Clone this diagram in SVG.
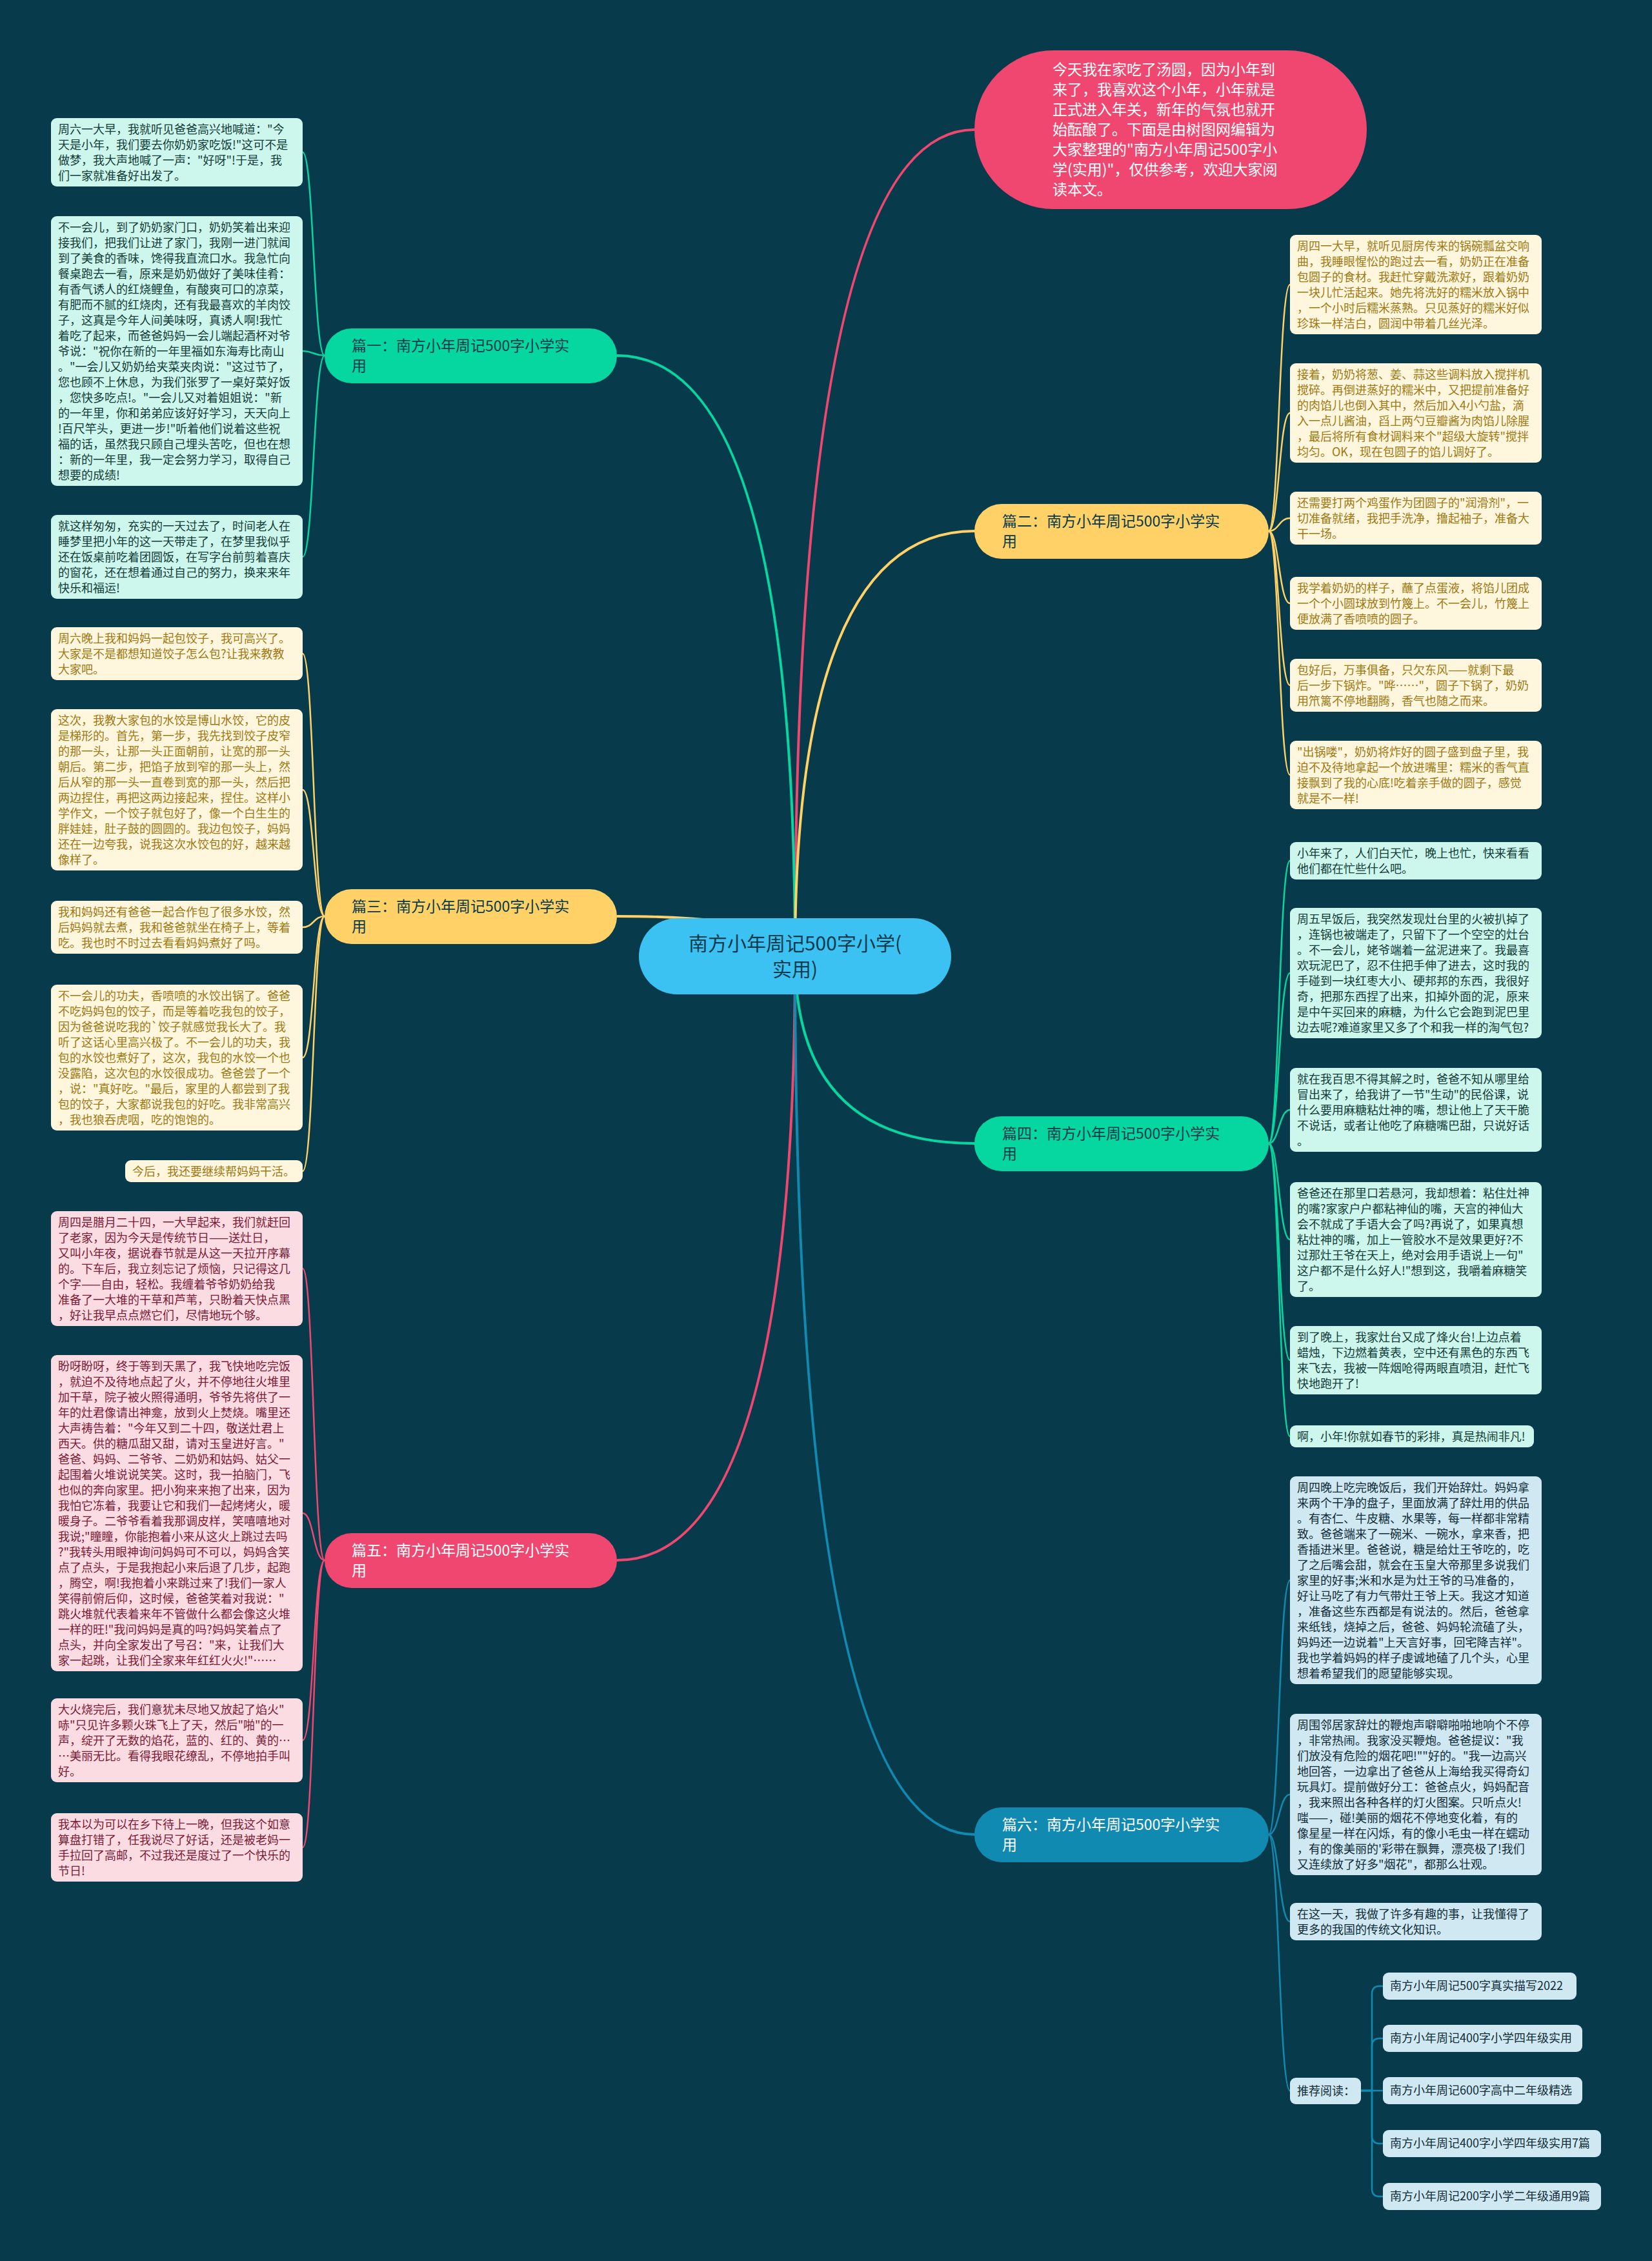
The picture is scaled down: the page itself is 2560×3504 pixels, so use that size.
<svg xmlns="http://www.w3.org/2000/svg" width="2560" height="3504" viewBox="0 0 2560 3504">
<style>
text{font-family:"Noto Sans CJK SC","Noto Sans",sans-serif}
.tx{font-size:18px}
.bx{stroke:none}
.cg{fill:#CDF6EC}.tg{fill:#123C38}
.cy{fill:#FFF6DE}.ty{fill:#A07812}
.cp{fill:#FCDCE3}.tp{fill:#7C1A35}
.cb{fill:#D0E8F1}.tb{fill:#0F2C38}
.main{fill:none;stroke-width:4}
.sub{fill:none;stroke-width:2.5}
.sg{stroke:#06D6A0}.sy{stroke:#FFD166}.sp{stroke:#EF476F}.sb{stroke:#118AB2}
.br{font-size:23px}
</style>
<rect width="2560" height="3504" fill="#073B4C"/>
<g id="connectors">
<path class="main sp" d="M1232 1482 Q1232 201 1510 201"/>
<path class="main sg" d="M1232 1482 Q1232 551 956 551"/>
<path class="main sy" d="M1232 1482 Q1232 823 1510 823"/>
<path class="main sy" d="M1232 1482 Q1232 1420 956 1420"/>
<path class="main sg" d="M1232 1482 Q1232 1772 1510 1772"/>
<path class="main sp" d="M1232 1482 Q1232 2418 956 2418"/>
<path class="main sb" d="M1232 1482 Q1232 2843 1510 2843"/>
<path class="sub sg" d="M503 551 C486 551 486 236 469 236"/>
<path class="sub sg" d="M503 551 C486 551 486 544 469 544"/>
<path class="sub sg" d="M503 551 C486 551 486 863 469 863"/>
<path class="sub sy" d="M503 1420 C486 1420 486 1013 469 1013"/>
<path class="sub sy" d="M503 1420 C486 1420 486 1224 469 1224"/>
<path class="sub sy" d="M503 1420 C486 1420 486 1437 469 1437"/>
<path class="sub sy" d="M503 1420 C486 1420 486 1639 469 1639"/>
<path class="sub sy" d="M503 1420 C486 1420 486 1815 469 1815"/>
<path class="sub sp" d="M503 2418 C486 2418 486 1966 469 1966"/>
<path class="sub sp" d="M503 2418 C486 2418 486 2345 469 2345"/>
<path class="sub sp" d="M503 2418 C486 2418 486 2697 469 2697"/>
<path class="sub sp" d="M503 2418 C486 2418 486 2863 469 2863"/>
<path class="sub sy" d="M1966 823 C1982 823 1982 441 1999 441"/>
<path class="sub sy" d="M1966 823 C1982 823 1982 640 1999 640"/>
<path class="sub sy" d="M1966 823 C1982 823 1982 803 1999 803"/>
<path class="sub sy" d="M1966 823 C1982 823 1982 935 1999 935"/>
<path class="sub sy" d="M1966 823 C1982 823 1982 1062 1999 1062"/>
<path class="sub sy" d="M1966 823 C1982 823 1982 1201 1999 1201"/>
<path class="sub sg" d="M1966 1772 C1982 1772 1982 1334 1999 1334"/>
<path class="sub sg" d="M1966 1772 C1982 1772 1982 1508 1999 1508"/>
<path class="sub sg" d="M1966 1772 C1982 1772 1982 1720 1999 1720"/>
<path class="sub sg" d="M1966 1772 C1982 1772 1982 1921 1999 1921"/>
<path class="sub sg" d="M1966 1772 C1982 1772 1982 2108 1999 2108"/>
<path class="sub sg" d="M1966 1772 C1982 1772 1982 2226 1999 2226"/>
<path class="sub sb" d="M1966 2843 C1982 2843 1982 2449 1999 2449"/>
<path class="sub sb" d="M1966 2843 C1982 2843 1982 2781 1999 2781"/>
<path class="sub sb" d="M1966 2843 C1982 2843 1982 2978 1999 2978"/>
<path class="sub sb" d="M1966 2843 C1982 2843 1982 3240 1999 3240"/>
<path class="sub sb" d="M2109 3240 H2126 V3090 Q2126 3078 2138 3078 H2143"/>
<path class="sub sb" d="M2109 3240 H2126 V3171 Q2126 3159 2138 3159 H2143"/>
<path class="sub sb" d="M2109 3240 H2143"/>
<path class="sub sb" d="M2109 3240 H2126 V3310 Q2126 3322 2138 3322 H2143"/>
<path class="sub sb" d="M2109 3240 H2126 V3392 Q2126 3404 2138 3404 H2143"/>
</g>
<g id="root"><rect x="990" y="1423" width="484" height="118" rx="59" fill="#3CC2F2"/><text x="1232" y="1473" font-size="30" text-anchor="middle" fill="#073B4C"><tspan x="1232">南方小年周记500字小学(</tspan><tspan x="1232" dy="40">实用)</tspan></text></g>
<g id="intro"><rect x="1510" y="78" width="608" height="246" rx="123" fill="#EF476F"/><text x="1631" y="116" font-size="23" fill="#FFFFFF"><tspan x="1631">今天我在家吃了汤圆，因为小年到</tspan><tspan x="1631" dy="31">来了，我喜欢这个小年，小年就是</tspan><tspan x="1631" dy="31">正式进入年关，新年的气氛也就开</tspan><tspan x="1631" dy="31">始酝酿了。下面是由树图网编辑为</tspan><tspan x="1631" dy="31">大家整理的"南方小年周记500字小</tspan><tspan x="1631" dy="31">学(实用)"，仅供参考，欢迎大家阅</tspan><tspan x="1631" dy="31">读本文。</tspan></text></g>
<g id="b1"><rect x="503" y="509" width="453" height="85" rx="42" fill="#06D6A0"/><text class="br" x="545" y="544" fill="#073B4C"><tspan x="545">篇一：南方小年周记500字小学实</tspan><tspan x="545" dy="31">用</tspan></text></g>
<g id="b3"><rect x="503" y="1378" width="453" height="85" rx="42" fill="#FFD166"/><text class="br" x="545" y="1413" fill="#073B4C"><tspan x="545">篇三：南方小年周记500字小学实</tspan><tspan x="545" dy="31">用</tspan></text></g>
<g id="b5"><rect x="503" y="2376" width="453" height="85" rx="42" fill="#EF476F"/><text class="br" x="545" y="2411" fill="#FFFFFF"><tspan x="545">篇五：南方小年周记500字小学实</tspan><tspan x="545" dy="31">用</tspan></text></g>
<g id="b2"><rect x="1510" y="781" width="456" height="85" rx="42" fill="#FFD166"/><text class="br" x="1553" y="816" fill="#073B4C"><tspan x="1553">篇二：南方小年周记500字小学实</tspan><tspan x="1553" dy="31">用</tspan></text></g>
<g id="b4"><rect x="1510" y="1730" width="456" height="85" rx="42" fill="#06D6A0"/><text class="br" x="1553" y="1765" fill="#073B4C"><tspan x="1553">篇四：南方小年周记500字小学实</tspan><tspan x="1553" dy="31">用</tspan></text></g>
<g id="b6"><rect x="1510" y="2801" width="456" height="85" rx="42" fill="#118AB2"/><text class="br" x="1553" y="2836" fill="#FFFFFF"><tspan x="1553">篇六：南方小年周记500字小学实</tspan><tspan x="1553" dy="31">用</tspan></text></g>
<g id="L1"><rect class="cg" x="79" y="183" width="390" height="106" rx="9"/><text class="tx tg" x="90" y="207"><tspan x="90">周六一大早，我就听见爸爸高兴地喊道："今</tspan><tspan x="90" dy="24">天是小年，我们要去你奶奶家吃饭!"这可不是</tspan><tspan x="90" dy="24">做梦，我大声地喊了一声："好呀"!于是，我</tspan><tspan x="90" dy="24">们一家就准备好出发了。</tspan></text></g>
<g id="L2"><rect class="cg" x="79" y="335" width="390" height="418" rx="9"/><text class="tx tg" x="90" y="359"><tspan x="90">不一会儿，到了奶奶家门口，奶奶笑着出来迎</tspan><tspan x="90" dy="24">接我们，把我们让进了家门，我刚一进门就闻</tspan><tspan x="90" dy="24">到了美食的香味，馋得我直流口水。我急忙向</tspan><tspan x="90" dy="24">餐桌跑去一看，原来是奶奶做好了美味佳肴：</tspan><tspan x="90" dy="24">有香气诱人的红烧鲤鱼，有酸爽可口的凉菜，</tspan><tspan x="90" dy="24">有肥而不腻的红烧肉，还有我最喜欢的羊肉饺</tspan><tspan x="90" dy="24">子，这真是今年人间美味呀，真诱人啊!我忙</tspan><tspan x="90" dy="24">着吃了起来，而爸爸妈妈一会儿端起酒杯对爷</tspan><tspan x="90" dy="24">爷说："祝你在新的一年里福如东海寿比南山</tspan><tspan x="90" dy="24">。"一会儿又奶奶给夹菜夹肉说："这过节了，</tspan><tspan x="90" dy="24">您也顾不上休息，为我们张罗了一桌好菜好饭</tspan><tspan x="90" dy="24">，您快多吃点!。"一会儿又对着姐姐说："新</tspan><tspan x="90" dy="24">的一年里，你和弟弟应该好好学习，天天向上</tspan><tspan x="90" dy="24">!百尺竿头，更进一步!"听着他们说着这些祝</tspan><tspan x="90" dy="24">福的话，虽然我只顾自己埋头苦吃，但也在想</tspan><tspan x="90" dy="24">：新的一年里，我一定会努力学习，取得自己</tspan><tspan x="90" dy="24">想要的成绩!</tspan></text></g>
<g id="L3"><rect class="cg" x="79" y="798" width="390" height="130" rx="9"/><text class="tx tg" x="90" y="822"><tspan x="90">就这样匆匆，充实的一天过去了，时间老人在</tspan><tspan x="90" dy="24">睡梦里把小年的这一天带走了，在梦里我似乎</tspan><tspan x="90" dy="24">还在饭桌前吃着团圆饭，在写字台前剪着喜庆</tspan><tspan x="90" dy="24">的窗花，还在想着通过自己的努力，换来来年</tspan><tspan x="90" dy="24">快乐和福运!</tspan></text></g>
<g id="L4"><rect class="cy" x="79" y="972" width="390" height="82" rx="9"/><text class="tx ty" x="90" y="996"><tspan x="90">周六晚上我和妈妈一起包饺子，我可高兴了。</tspan><tspan x="90" dy="24">大家是不是都想知道饺子怎么包?让我来教教</tspan><tspan x="90" dy="24">大家吧。</tspan></text></g>
<g id="L5"><rect class="cy" x="79" y="1099" width="390" height="250" rx="9"/><text class="tx ty" x="90" y="1123"><tspan x="90">这次，我教大家包的水饺是博山水饺，它的皮</tspan><tspan x="90" dy="24">是梯形的。首先，第一步，我先找到饺子皮窄</tspan><tspan x="90" dy="24">的那一头，让那一头正面朝前，让宽的那一头</tspan><tspan x="90" dy="24">朝后。第二步，把馅子放到窄的那一头上，然</tspan><tspan x="90" dy="24">后从窄的那一头一直卷到宽的那一头，然后把</tspan><tspan x="90" dy="24">两边捏住，再把这两边接起来，捏住。这样小</tspan><tspan x="90" dy="24">学作文，一个饺子就包好了，像一个白生生的</tspan><tspan x="90" dy="24">胖娃娃，肚子鼓的圆圆的。我边包饺子，妈妈</tspan><tspan x="90" dy="24">还在一边夸我，说我这次水饺包的好，越来越</tspan><tspan x="90" dy="24">像样了。</tspan></text></g>
<g id="L6"><rect class="cy" x="79" y="1396" width="390" height="82" rx="9"/><text class="tx ty" x="90" y="1420"><tspan x="90">我和妈妈还有爸爸一起合作包了很多水饺，然</tspan><tspan x="90" dy="24">后妈妈就去煮，我和爸爸就坐在椅子上，等着</tspan><tspan x="90" dy="24">吃。我也时不时过去看看妈妈煮好了吗。</tspan></text></g>
<g id="L7"><rect class="cy" x="79" y="1526" width="390" height="226" rx="9"/><text class="tx ty" x="90" y="1550"><tspan x="90">不一会儿的功夫，香喷喷的水饺出锅了。爸爸</tspan><tspan x="90" dy="24">不吃妈妈包的饺子，而是等着吃我包的饺子，</tspan><tspan x="90" dy="24">因为爸爸说吃我的`饺子就感觉我长大了。我</tspan><tspan x="90" dy="24">听了这话心里高兴极了。不一会儿的功夫，我</tspan><tspan x="90" dy="24">包的水饺也煮好了，这次，我包的水饺一个也</tspan><tspan x="90" dy="24">没露陷，这次包的水饺很成功。爸爸尝了一个</tspan><tspan x="90" dy="24">，说："真好吃。"最后，家里的人都尝到了我</tspan><tspan x="90" dy="24">包的饺子，大家都说我包的好吃。我非常高兴</tspan><tspan x="90" dy="24">，我也狼吞虎咽，吃的饱饱的。</tspan></text></g>
<g id="L8"><rect class="cy" x="194" y="1798" width="275" height="34" rx="9"/><text class="tx ty" x="205" y="1822">今后，我还要继续帮妈妈干活。</text></g>
<g id="L9"><rect class="cp" x="79" y="1877" width="390" height="178" rx="9"/><text class="tx tp" x="90" y="1901"><tspan x="90">周四是腊月二十四，一大早起来，我们就赶回</tspan><tspan x="90" dy="24">了老家，因为今天是传统节日——送灶日，</tspan><tspan x="90" dy="24">又叫小年夜，据说春节就是从这一天拉开序幕</tspan><tspan x="90" dy="24">的。下车后，我立刻忘记了烦恼，只记得这几</tspan><tspan x="90" dy="24">个字——自由，轻松。我缠着爷爷奶奶给我</tspan><tspan x="90" dy="24">准备了一大堆的干草和芦苇，只盼着天快点黑</tspan><tspan x="90" dy="24">，好让我早点点燃它们，尽情地玩个够。</tspan></text></g>
<g id="L10"><rect class="cp" x="79" y="2100" width="390" height="490" rx="9"/><text class="tx tp" x="90" y="2124"><tspan x="90">盼呀盼呀，终于等到天黑了，我飞快地吃完饭</tspan><tspan x="90" dy="24">，就迫不及待地点起了火，并不停地往火堆里</tspan><tspan x="90" dy="24">加干草，院子被火照得通明，爷爷先将供了一</tspan><tspan x="90" dy="24">年的灶君像请出神龛，放到火上焚烧。嘴里还</tspan><tspan x="90" dy="24">大声祷告着："今年又到二十四，敬送灶君上</tspan><tspan x="90" dy="24">西天。供的糖瓜甜又甜，请对玉皇进好言。"</tspan><tspan x="90" dy="24">爸爸、妈妈、二爷爷、二奶奶和姑妈、姑父一</tspan><tspan x="90" dy="24">起围着火堆说说笑笑。这时，我一拍脑门，飞</tspan><tspan x="90" dy="24">也似的奔向家里。把小狗来来抱了出来，因为</tspan><tspan x="90" dy="24">我怕它冻着，我要让它和我们一起烤烤火，暖</tspan><tspan x="90" dy="24">暖身子。二爷爷看着我那调皮样，笑嘻嘻地对</tspan><tspan x="90" dy="24">我说;"瞳瞳，你能抱着小来从这火上跳过去吗</tspan><tspan x="90" dy="24">?"我转头用眼神询问妈妈可不可以，妈妈含笑</tspan><tspan x="90" dy="24">点了点头，于是我抱起小来后退了几步，起跑</tspan><tspan x="90" dy="24">，腾空，啊!我抱着小来跳过来了!我们一家人</tspan><tspan x="90" dy="24">笑得前俯后仰，这时候，爸爸笑着对我说："</tspan><tspan x="90" dy="24">跳火堆就代表着来年不管做什么都会像这火堆</tspan><tspan x="90" dy="24">一样的旺!"我问妈妈是真的吗?妈妈笑着点了</tspan><tspan x="90" dy="24">点头，并向全家发出了号召："来，让我们大</tspan><tspan x="90" dy="24">家一起跳，让我们全家来年红红火火!"……</tspan></text></g>
<g id="L11"><rect class="cp" x="79" y="2632" width="390" height="130" rx="9"/><text class="tx tp" x="90" y="2656"><tspan x="90">大火烧完后，我们意犹未尽地又放起了焰火"</tspan><tspan x="90" dy="24">哧"只见许多颗火珠飞上了天，然后"啪"的一</tspan><tspan x="90" dy="24">声，绽开了无数的焰花，蓝的、红的、黄的…</tspan><tspan x="90" dy="24">…美丽无比。看得我眼花缭乱，不停地拍手叫</tspan><tspan x="90" dy="24">好。</tspan></text></g>
<g id="L12"><rect class="cp" x="79" y="2810" width="390" height="106" rx="9"/><text class="tx tp" x="90" y="2834"><tspan x="90">我本以为可以在乡下待上一晚，但我这个如意</tspan><tspan x="90" dy="24">算盘打错了，任我说尽了好话，还是被老妈一</tspan><tspan x="90" dy="24">手拉回了高邮，不过我还是度过了一个快乐的</tspan><tspan x="90" dy="24">节日!</tspan></text></g>
<g id="R1"><rect class="cy" x="1999" y="364" width="390" height="154" rx="9"/><text class="tx ty" x="2010" y="388"><tspan x="2010">周四一大早，就听见厨房传来的锅碗瓢盆交响</tspan><tspan x="2010" dy="24">曲，我睡眼惺忪的跑过去一看，奶奶正在准备</tspan><tspan x="2010" dy="24">包圆子的食材。我赶忙穿戴洗漱好，跟着奶奶</tspan><tspan x="2010" dy="24">一块儿忙活起来。她先将洗好的糯米放入锅中</tspan><tspan x="2010" dy="24">，一个小时后糯米蒸熟。只见蒸好的糯米好似</tspan><tspan x="2010" dy="24">珍珠一样洁白，圆润中带着几丝光泽。</tspan></text></g>
<g id="R2"><rect class="cy" x="1999" y="563" width="390" height="154" rx="9"/><text class="tx ty" x="2010" y="587"><tspan x="2010">接着，奶奶将葱、姜、蒜这些调料放入搅拌机</tspan><tspan x="2010" dy="24">搅碎。再倒进蒸好的糯米中，又把提前准备好</tspan><tspan x="2010" dy="24">的肉馅儿也倒入其中，然后加入4小勺盐，滴</tspan><tspan x="2010" dy="24">入一点儿酱油，舀上两勺豆瓣酱为肉馅儿除腥</tspan><tspan x="2010" dy="24">，最后将所有食材调料来个"超级大旋转"搅拌</tspan><tspan x="2010" dy="24">均匀。OK，现在包圆子的馅儿调好了。</tspan></text></g>
<g id="R3"><rect class="cy" x="1999" y="762" width="390" height="82" rx="9"/><text class="tx ty" x="2010" y="786"><tspan x="2010">还需要打两个鸡蛋作为团圆子的"润滑剂"，一</tspan><tspan x="2010" dy="24">切准备就绪，我把手洗净，撸起袖子，准备大</tspan><tspan x="2010" dy="24">干一场。</tspan></text></g>
<g id="R4"><rect class="cy" x="1999" y="894" width="390" height="82" rx="9"/><text class="tx ty" x="2010" y="918"><tspan x="2010">我学着奶奶的样子，蘸了点蛋液，将馅儿团成</tspan><tspan x="2010" dy="24">一个个小圆球放到竹篾上。不一会儿，竹篾上</tspan><tspan x="2010" dy="24">便放满了香喷喷的圆子。</tspan></text></g>
<g id="R5"><rect class="cy" x="1999" y="1021" width="390" height="82" rx="9"/><text class="tx ty" x="2010" y="1045"><tspan x="2010">包好后，万事俱备，只欠东风——就剩下最</tspan><tspan x="2010" dy="24">后一步下锅炸。"哗……"，圆子下锅了，奶奶</tspan><tspan x="2010" dy="24">用笊篱不停地翻腾，香气也随之而来。</tspan></text></g>
<g id="R6"><rect class="cy" x="1999" y="1148" width="390" height="106" rx="9"/><text class="tx ty" x="2010" y="1172"><tspan x="2010">"出锅喽"，奶奶将炸好的圆子盛到盘子里，我</tspan><tspan x="2010" dy="24">迫不及待地拿起一个放进嘴里：糯米的香气直</tspan><tspan x="2010" dy="24">接飘到了我的心底!吃着亲手做的圆子，感觉</tspan><tspan x="2010" dy="24">就是不一样!</tspan></text></g>
<g id="R7"><rect class="cg" x="1999" y="1305" width="390" height="58" rx="9"/><text class="tx tg" x="2010" y="1329"><tspan x="2010">小年来了，人们白天忙，晚上也忙，快来看看</tspan><tspan x="2010" dy="24">他们都在忙些什么吧。</tspan></text></g>
<g id="R8"><rect class="cg" x="1999" y="1407" width="390" height="202" rx="9"/><text class="tx tg" x="2010" y="1431"><tspan x="2010">周五早饭后，我突然发现灶台里的火被扒掉了</tspan><tspan x="2010" dy="24">，连锅也被端走了，只留下了一个空空的灶台</tspan><tspan x="2010" dy="24">。不一会儿，姥爷端着一盆泥进来了。我最喜</tspan><tspan x="2010" dy="24">欢玩泥巴了，忍不住把手伸了进去，这时我的</tspan><tspan x="2010" dy="24">手碰到一块红枣大小、硬邦邦的东西，我很好</tspan><tspan x="2010" dy="24">奇，把那东西捏了出来，扣掉外面的泥，原来</tspan><tspan x="2010" dy="24">是中午买回来的麻糖，为什么它会跑到泥巴里</tspan><tspan x="2010" dy="24">边去呢?难道家里又多了个和我一样的淘气包?</tspan></text></g>
<g id="R9"><rect class="cg" x="1999" y="1655" width="390" height="130" rx="9"/><text class="tx tg" x="2010" y="1679"><tspan x="2010">就在我百思不得其解之时，爸爸不知从哪里给</tspan><tspan x="2010" dy="24">冒出来了，给我讲了一节"生动"的民俗课，说</tspan><tspan x="2010" dy="24">什么要用麻糖粘灶神的嘴，想让他上了天干脆</tspan><tspan x="2010" dy="24">不说话，或者让他吃了麻糖嘴巴甜，只说好话</tspan><tspan x="2010" dy="24">。</tspan></text></g>
<g id="R10"><rect class="cg" x="1999" y="1832" width="390" height="178" rx="9"/><text class="tx tg" x="2010" y="1856"><tspan x="2010">爸爸还在那里口若悬河，我却想着：粘住灶神</tspan><tspan x="2010" dy="24">的嘴?家家户户都粘神仙的嘴，天宫的神仙大</tspan><tspan x="2010" dy="24">会不就成了手语大会了吗?再说了，如果真想</tspan><tspan x="2010" dy="24">粘灶神的嘴，加上一管胶水不是效果更好?不</tspan><tspan x="2010" dy="24">过那灶王爷在天上，绝对会用手语说上一句"</tspan><tspan x="2010" dy="24">这户都不是什么好人!"想到这，我嚼着麻糖笑</tspan><tspan x="2010" dy="24">了。</tspan></text></g>
<g id="R11"><rect class="cg" x="1999" y="2055" width="390" height="106" rx="9"/><text class="tx tg" x="2010" y="2079"><tspan x="2010">到了晚上，我家灶台又成了烽火台!上边点着</tspan><tspan x="2010" dy="24">蜡烛，下边燃着黄表，空中还有黑色的东西飞</tspan><tspan x="2010" dy="24">来飞去，我被一阵烟呛得两眼直喷泪，赶忙飞</tspan><tspan x="2010" dy="24">快地跑开了!</tspan></text></g>
<g id="R12"><rect class="cg" x="1999" y="2209" width="378" height="34" rx="9"/><text class="tx tg" x="2010" y="2233">啊，小年!你就如春节的彩排，真是热闹非凡!</text></g>
<g id="R13"><rect class="cb" x="1999" y="2288" width="390" height="322" rx="9"/><text class="tx tb" x="2010" y="2312"><tspan x="2010">周四晚上吃完晚饭后，我们开始辞灶。妈妈拿</tspan><tspan x="2010" dy="24">来两个干净的盘子，里面放满了辞灶用的供品</tspan><tspan x="2010" dy="24">。有杏仁、牛皮糖、水果等，每一样都非常精</tspan><tspan x="2010" dy="24">致。爸爸端来了一碗米、一碗水，拿来香，把</tspan><tspan x="2010" dy="24">香插进米里。爸爸说，糖是给灶王爷吃的，吃</tspan><tspan x="2010" dy="24">了之后嘴会甜，就会在玉皇大帝那里多说我们</tspan><tspan x="2010" dy="24">家里的好事;米和水是为灶王爷的马准备的，</tspan><tspan x="2010" dy="24">好让马吃了有力气带灶王爷上天。我这才知道</tspan><tspan x="2010" dy="24">，准备这些东西都是有说法的。然后，爸爸拿</tspan><tspan x="2010" dy="24">来纸钱，烧掉之后，爸爸、妈妈轮流磕了头，</tspan><tspan x="2010" dy="24">妈妈还一边说着"上天言好事，回宅降吉祥"。</tspan><tspan x="2010" dy="24">我也学着妈妈的样子虔诚地磕了几个头，心里</tspan><tspan x="2010" dy="24">想着希望我们的愿望能够实现。</tspan></text></g>
<g id="R14"><rect class="cb" x="1999" y="2656" width="390" height="250" rx="9"/><text class="tx tb" x="2010" y="2680"><tspan x="2010">周围邻居家辞灶的鞭炮声噼噼啪啪地响个不停</tspan><tspan x="2010" dy="24">，非常热闹。我家没买鞭炮。爸爸提议："我</tspan><tspan x="2010" dy="24">们放没有危险的烟花吧!""好的。"我一边高兴</tspan><tspan x="2010" dy="24">地回答，一边拿出了爸爸从上海给我买得奇幻</tspan><tspan x="2010" dy="24">玩具灯。提前做好分工：爸爸点火，妈妈配音</tspan><tspan x="2010" dy="24">，我来照出各种各样的灯火图案。只听点火!</tspan><tspan x="2010" dy="24">嗤——，碰!美丽的烟花不停地变化着，有的</tspan><tspan x="2010" dy="24">像星星一样在闪烁，有的像小毛虫一样在蠕动</tspan><tspan x="2010" dy="24">，有的像美丽的'彩带在飘舞，漂亮极了!我们</tspan><tspan x="2010" dy="24">又连续放了好多"烟花"，都那么壮观。</tspan></text></g>
<g id="R15"><rect class="cb" x="1999" y="2949" width="390" height="58" rx="9"/><text class="tx tb" x="2010" y="2973"><tspan x="2010">在这一天，我做了许多有趣的事，让我懂得了</tspan><tspan x="2010" dy="24">更多的我国的传统文化知识。</tspan></text></g>
<g id="rec"><rect class="cb" x="1999" y="3220" width="110" height="41" rx="9"/><text class="tx tb" x="2010" y="3247">推荐阅读：</text></g>
<g id="k1"><rect class="cb" x="2143" y="3057" width="300" height="42" rx="9"/><text class="tx tb" x="2154" y="3084">南方小年周记500字真实描写2022</text></g>
<g id="k2"><rect class="cb" x="2143" y="3138" width="309" height="42" rx="9"/><text class="tx tb" x="2154" y="3165">南方小年周记400字小学四年级实用</text></g>
<g id="k3"><rect class="cb" x="2143" y="3219" width="309" height="42" rx="9"/><text class="tx tb" x="2154" y="3246">南方小年周记600字高中二年级精选</text></g>
<g id="k4"><rect class="cb" x="2143" y="3301" width="338" height="42" rx="9"/><text class="tx tb" x="2154" y="3328">南方小年周记400字小学四年级实用7篇</text></g>
<g id="k5"><rect class="cb" x="2143" y="3383" width="338" height="42" rx="9"/><text class="tx tb" x="2154" y="3410">南方小年周记200字小学二年级通用9篇</text></g>
</svg>
